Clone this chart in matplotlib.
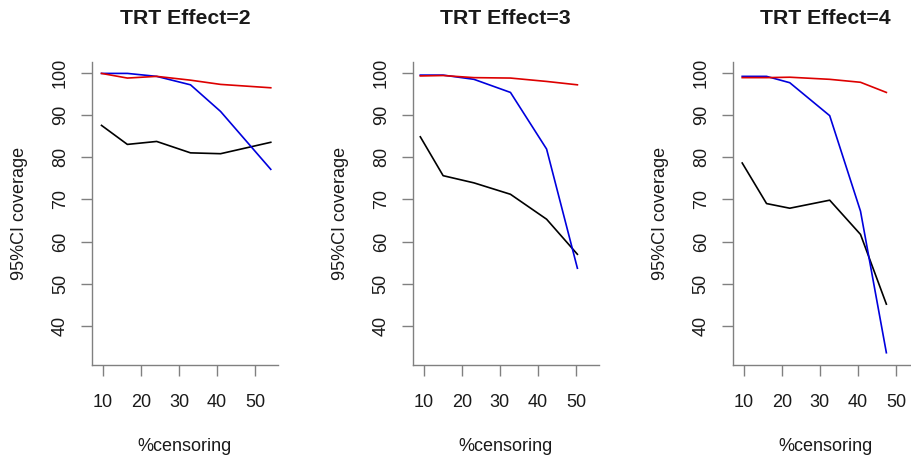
import matplotlib
matplotlib.use("Agg")
import matplotlib.pyplot as plt

plt.rcParams['font.family'] = ['Liberation Sans', 'DejaVu Sans']

titles = ["TRT Effect=2", "TRT Effect=3", "TRT Effect=4"]

# censoring percentages per panel
x1 = [9.6, 16.4, 24.1, 33.0, 40.9, 54.1]
x2 = [9.1, 15.1, 23.2, 32.8, 42.3, 50.4]
x3 = [9.6, 16.0, 22.1, 32.6, 40.7, 47.5]

black1 = [87.5, 83.0, 83.7, 81.0, 80.8, 83.5]
blue1 = [99.8, 99.8, 99.1, 97.1, 90.8, 77.1]
red1 = [99.8, 98.7, 99.1, 98.2, 97.2, 96.4]

black2 = [84.8, 75.6, 73.9, 71.2, 65.3, 57.0]
blue2 = [99.4, 99.4, 98.4, 95.3, 81.9, 53.7]
red2 = [99.2, 99.3, 98.8, 98.7, 97.9, 97.1]

black3 = [78.6, 69.0, 67.9, 69.8, 61.7, 45.2]
blue3 = [99.1, 99.1, 97.6, 89.8, 67.2, 33.7]
red3 = [98.8, 98.8, 98.9, 98.4, 97.7, 95.3]

xticks = [10, 20, 30, 40, 50]
yticks = [40, 50, 60, 70, 80, 90, 100]

panels = [
    (x1, black1, blue1, red1),
    (x2, black2, blue2, red2),
    (x3, black3, blue3, red3),
]

W, H = 911, 457
fig = plt.figure(figsize=(W / 100, H / 100), dpi=100)

lefts = [92, 412.7, 732.7]
axw = 186
axb = H - 365
axh = 303

axis_col = "#808080"
text_col = "#1a1a1a"

for i, (xs, bk, bl, rd) in enumerate(panels):
    ax = fig.add_axes([lefts[i] / W, axb / H, axw / W, axh / H])
    ax.plot(xs, bk, color="black", lw=1.2)
    ax.plot(xs, bl, color="#0000DD", lw=1.2)
    ax.plot(xs, rd, color="#DD0000", lw=1.2)
    ax.set_xlim(7.1, 56.0)
    ax.set_ylim(30.8, 102.5)
    ax.set_xticks(xticks)
    ax.set_yticks(yticks)
    for s in ["top", "right"]:
        ax.spines[s].set_visible(False)
    for s in ["left", "bottom"]:
        ax.spines[s].set_color(axis_col)
        ax.spines[s].set_linewidth(1.0)
    ax.tick_params(axis="both", direction="out", length=8, width=1.0,
                   color=axis_col, labelcolor=text_col, labelsize=13)
    ax.tick_params(axis="x", pad=13)
    ax.tick_params(axis="y", pad=8.5)
    for lab in ax.get_yticklabels():
        lab.set_rotation(90)
        lab.set_va("center")
    ax.set_xlabel("%censoring", fontsize=13, color=text_col, labelpad=19)
    ax.set_ylabel("95%CI coverage", fontsize=13, color=text_col, labelpad=17)
    ax.set_title(titles[i], fontsize=15.3, fontweight="bold", color=text_col, pad=27)

fig.savefig("out.png", dpi=100)
